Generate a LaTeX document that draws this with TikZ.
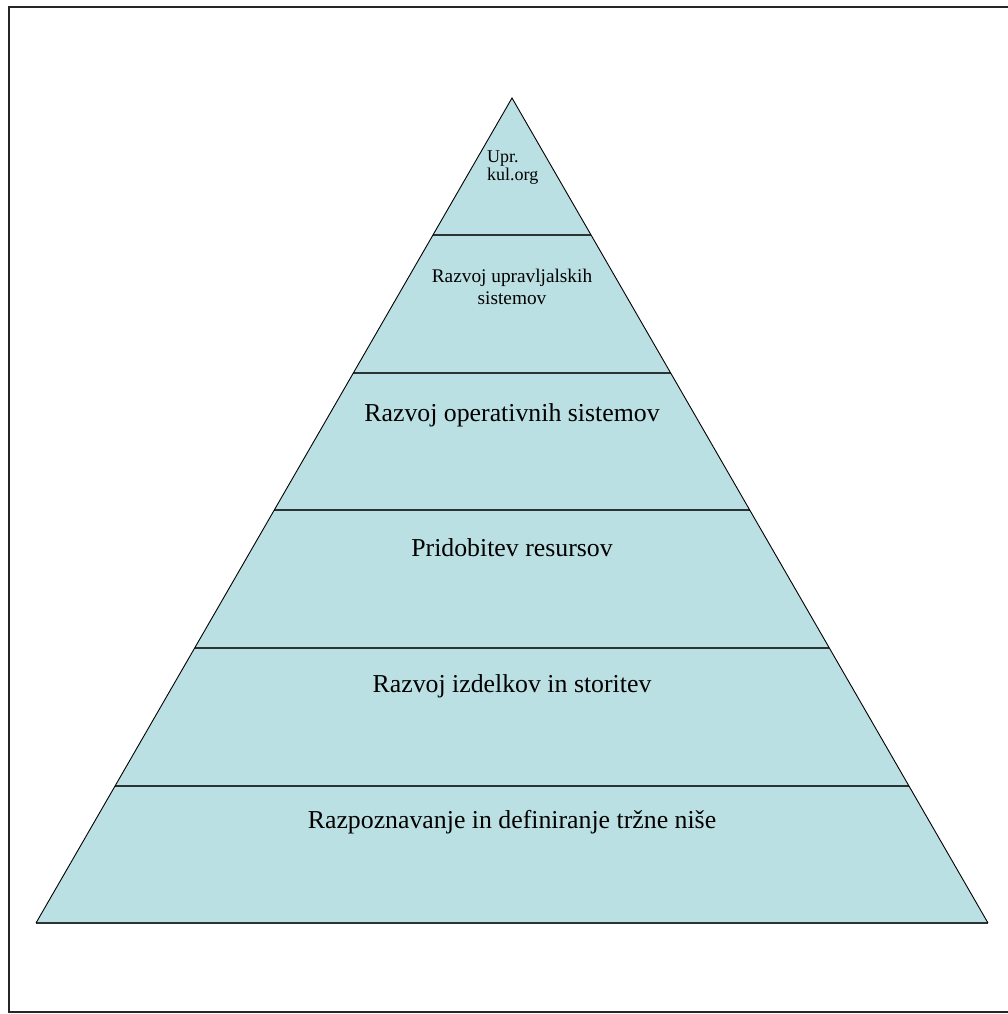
\documentclass[tikz,border=0pt]{standalone}
\usepackage{fontspec}
\setmainfont{Liberation Serif}
\definecolor{pyrfill}{HTML}{BBE0E3}
\definecolor{levelline}{HTML}{2B3435}
\tikzset{
  frameline/.style={line width=2.4pt, draw=black!85},
  pyrshape/.style={fill=pyrfill, draw=black, line width=0.9pt, line join=miter},
  levelsep/.style={draw=levelline, line width=1.8pt},
  bigtext/.style={anchor=base, inner sep=0pt, font=\fontsize{25.8}{30}\selectfont},
  smalltext/.style={anchor=base, inner sep=0pt, font=\fontsize{19.3}{22}\selectfont},
  toptext/.style={anchor=base west, inner sep=0pt, font=\fontsize{18}{18}\selectfont},
}
\begin{document}
\begin{tikzpicture}[x=1pt, y=-1pt]
\useasboundingbox (0,0) rectangle (1008,1014);
% outer frame (right side lies beyond the picture)
\draw[frameline] (1008,7) -- (9,7) -- (9,1012) -- (1008,1012);
% pyramid corners
\coordinate (apex) at (512,98);
\coordinate (bl) at (36,923);
\coordinate (br) at (988,923);
\fill[pyrfill] (apex) -- (bl) -- (br) -- cycle;
% level separators
\coordinate (l1a) at (433,235);   \coordinate (l1b) at (591,235);
\coordinate (l2a) at (353.3,373); \coordinate (l2b) at (670.7,373);
\coordinate (l3a) at (274.3,510); \coordinate (l3b) at (749.7,510);
\coordinate (l4a) at (194.7,648); \coordinate (l4b) at (829.3,648);
\coordinate (l5a) at (115,786);   \coordinate (l5b) at (909,786);
\draw[levelsep] (l1a) -- (l1b);
\draw[levelsep] (l2a) -- (l2b);
\draw[levelsep] (l3a) -- (l3b);
\draw[levelsep] (l4a) -- (l4b);
\draw[levelsep] (l5a) -- (l5b);
\draw[levelsep, line width=1.5pt] (bl) -- (br);
\draw[draw=black, line width=0.9pt] (bl) -- (apex) -- (br);
% texts
\node[toptext] (t1a) at (487,162) {Upr.};
\node[toptext] (t1b) at (487,180) {kul.org};
\node[smalltext] (t2a) at (512,282) {Razvoj upravljalskih};
\node[smalltext] (t2b) at (512,304) {sistemov};
\node[bigtext] (t3) at (512,421) {Razvoj operativnih sistemov};
\node[bigtext] (t4) at (512,556) {Pridobitev resursov};
\node[bigtext] (t5) at (512,692) {Razvoj izdelkov in storitev};
\node[bigtext] (t6) at (512,828) {Razpoznavanje in definiranje tržne niše};
\end{tikzpicture}
\end{document}
